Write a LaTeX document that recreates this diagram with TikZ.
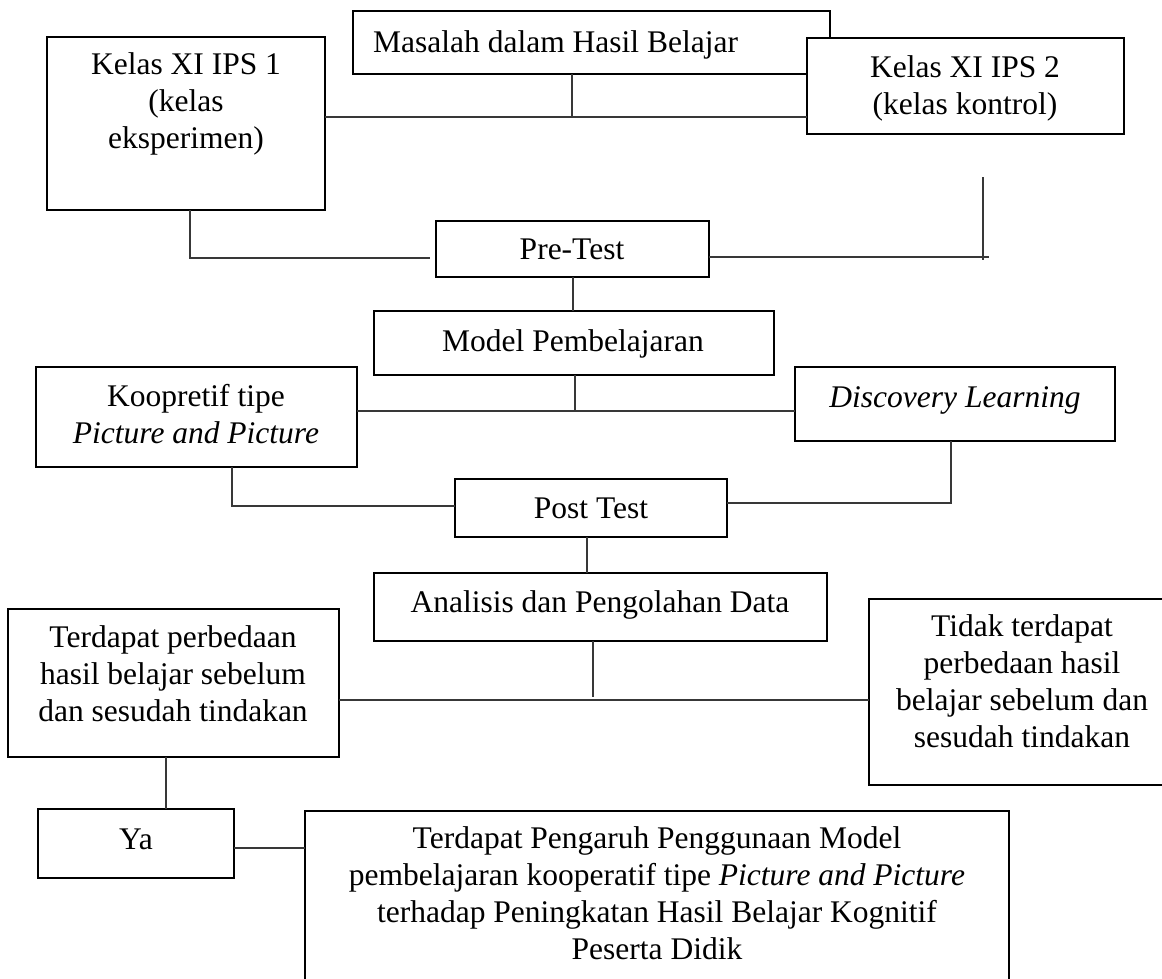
\documentclass[tikz,border=0pt]{standalone}
\usepackage{fontspec}
\setmainfont{Liberation Serif}
\tikzset{
  box/.style={draw=black, line width=2.4pt, fill=white, inner sep=0pt, outer sep=0pt, anchor=north west},
  lbl/.style={font=\fontsize{31.5}{37}\selectfont, align=center, inner sep=0pt, anchor=base},
  conn/.style={draw=black!78, line width=1.7pt},
}
\begin{document}
\begin{tikzpicture}[x=1pt,y=-1pt]
\useasboundingbox (0,0) rectangle (1162,979);
% boxes
\node[box, minimum width=477pt, minimum height=63pt]  (masalah) at (353,11) {};
\node[box, minimum width=278pt, minimum height=173pt] (kelas1)  at (47,37) {};
\node[box, minimum width=317pt, minimum height=96pt]  (kelas2)  at (807,38) {};
\node[box, minimum width=273pt, minimum height=56pt]  (pretest) at (436,221) {};
\node[box, minimum width=400pt, minimum height=64pt]  (model)   at (374,311) {};
\node[box, minimum width=321pt, minimum height=100pt] (koop)    at (36,367) {};
\node[box, minimum width=320pt, minimum height=74pt]  (disc)    at (795,367) {};
\node[box, minimum width=272pt, minimum height=58pt]  (post)    at (455,479) {};
\node[box, minimum width=453pt, minimum height=68pt]  (anal)    at (374,573) {};
\node[box, minimum width=331pt, minimum height=148pt] (terd)    at (8,609) {};
\node[box, minimum width=330pt, minimum height=186pt] (tidak)   at (869,599) {};
\node[box, minimum width=196pt, minimum height=69pt]  (ya)      at (38,809) {};
\node[box, minimum width=704pt, minimum height=200pt] (final)   at (305,811) {};
% texts (anchor = baseline of last line)
\node[lbl, anchor=base west] (t-masalah) at (373,53) {Masalah dalam Hasil Belajar};
\node[lbl] (t-kelas1) at (186,149) {Kelas XI IPS 1\\(kelas\\eksperimen)};
\node[lbl] (t-kelas2) at (965,115) {Kelas XI IPS 2\\(kelas kontrol)};
\node[lbl] (t-pretest) at (572,259) {Pre-Test};
\node[lbl] (t-model) at (573,351) {Model Pembelajaran};
\node[lbl] (t-koop) at (196,443) {Koopretif tipe\\\textit{Picture and Picture}};
\node[lbl] (t-disc) at (955,407) {\textit{Discovery Learning}};
\node[lbl] (t-post) at (591,518) {Post Test};
\node[lbl] (t-anal) at (600,612) {Analisis dan Pengolahan Data};
\node[lbl] (t-terd) at (173,721) {Terdapat perbedaan\\hasil belajar sebelum\\dan sesudah tindakan};
\node[lbl] (t-tidak) at (1022,747) {Tidak terdapat\\perbedaan hasil\\belajar sebelum dan\\sesudah tindakan};
\node[lbl] (t-ya) at (136,849) {Ya};
\node[lbl] (t-final) at (657,959) {Terdapat Pengaruh Penggunaan Model\\pembelajaran kooperatif tipe \textit{Picture and Picture}\\terhadap Peningkatan Hasil Belajar Kognitif\\Peserta Didik};
% connectors
\coordinate (j1) at (572,117);
\draw[conn] (masalah.south -| j1) -- (j1);
\draw[conn] (kelas1.east |- j1) -- (kelas2.west |- j1);
\coordinate (k1) at (190,258);
\coordinate (k1end) at (430,258);
\draw[conn] (kelas1.south -| k1) -- (k1) -- (k1end);
\coordinate (v2top) at (983,177);
\coordinate (v2bot) at (983,260);
\coordinate (h2end) at (989,257);
\draw[conn] (v2top) -- (v2bot);
\draw[conn] (pretest.east |- h2end) -- (h2end);
\coordinate (p1) at (573,0);
\draw[conn] (pretest.south -| p1) -- (model.north -| p1);
\coordinate (j2) at (575,411);
\draw[conn] (model.south -| j2) -- (j2);
\draw[conn] (koop.east |- j2) -- (disc.west |- j2);
\coordinate (k2) at (232,506);
\draw[conn] (koop.south -| k2) -- (k2) -- (post.west |- k2);
\coordinate (d2) at (951,503);
\draw[conn] (disc.south -| d2) -- (d2) -- (post.east |- d2);
\coordinate (p2) at (587,0);
\draw[conn] (post.south -| p2) -- (anal.north -| p2);
\coordinate (j3) at (593,697);
\coordinate (h3) at (0,700);
\draw[conn] (anal.south -| j3) -- (j3);
\draw[conn] (terd.east |- h3) -- (tidak.west |- h3);
\coordinate (p3) at (166,0);
\draw[conn] (terd.south -| p3) -- (ya.north -| p3);
\coordinate (h4) at (0,848);
\draw[conn] (ya.east |- h4) -- (final.west |- h4);
\end{tikzpicture}
\end{document}
